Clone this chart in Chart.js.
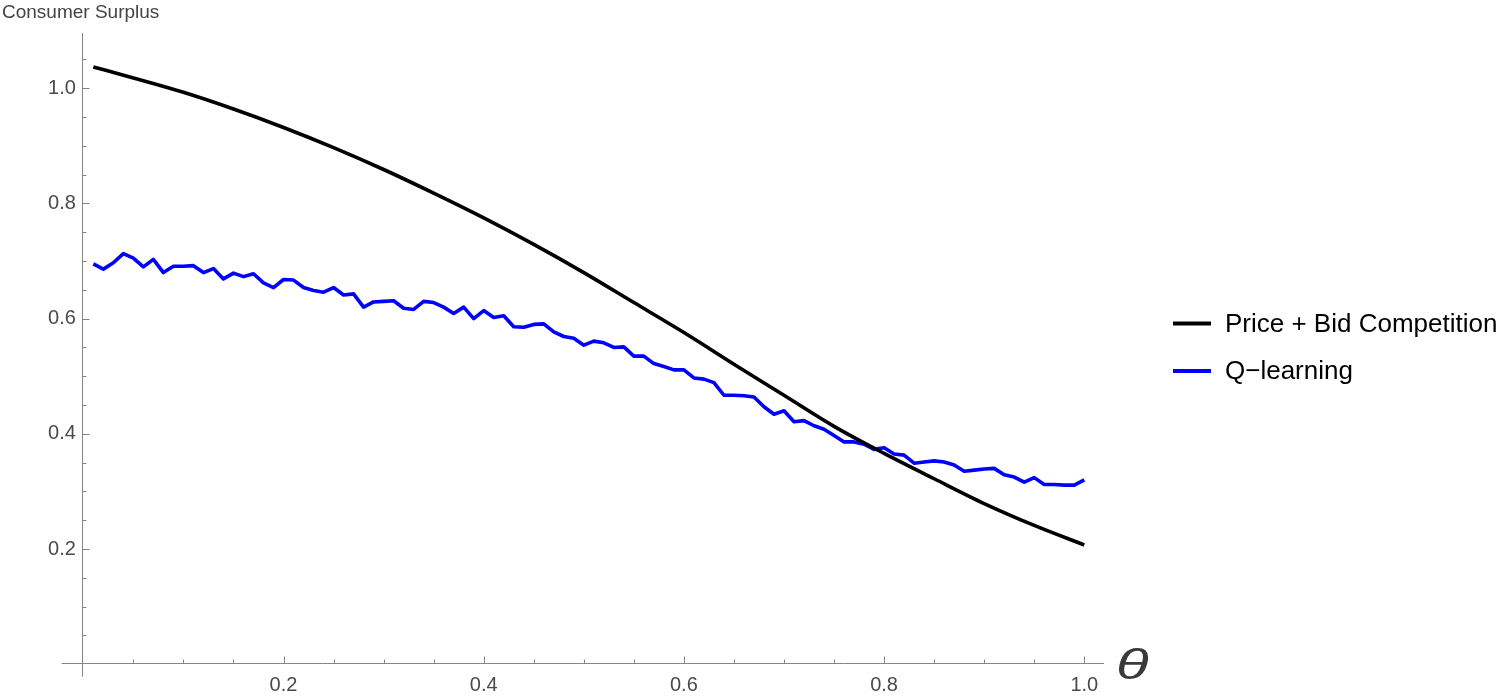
<!DOCTYPE html>
<html><head><meta charset="utf-8">
<script src="https://cdn.jsdelivr.net/npm/chart.js@4.4.1/dist/chart.umd.min.js"></script>
<style>html,body{margin:0;padding:0;background:#fff;overflow:hidden}#wrap{position:relative;width:1508px;height:697px}canvas{display:block}</style>
</head><body><div id="wrap"><canvas id="c" width="1508" height="697" style="width:1508px;height:697px"></canvas></div>
<script>
const thetaQ = [0.01,0.02,0.03,0.04,0.05,0.06,0.07,0.08,0.09,0.10,
0.11,0.12,0.13,0.14,0.15,0.16,0.17,0.18,0.19,0.20,
0.21,0.22,0.23,0.24,0.25,0.26,0.27,0.28,0.29,0.30,
0.31,0.32,0.33,0.34,0.35,0.36,0.37,0.38,0.39,0.40,
0.41,0.42,0.43,0.44,0.45,0.46,0.47,0.48,0.49,0.50,
0.51,0.52,0.53,0.54,0.55,0.56,0.57,0.58,0.59,0.60,
0.61,0.62,0.63,0.64,0.65,0.66,0.67,0.68,0.69,0.70,
0.71,0.72,0.73,0.74,0.75,0.76,0.77,0.78,0.79,0.80,
0.81,0.82,0.83,0.84,0.85,0.86,0.87,0.88,0.89,0.90,
0.91,0.92,0.93,0.94,0.95,0.96,0.97,0.98,0.99,1.00];
const qLearning = [0.695,0.686,0.697,0.713,0.705,0.690,0.703,0.680,0.691,0.691,
0.692,0.680,0.687,0.669,0.679,0.673,0.678,0.662,0.654,0.668,
0.667,0.654,0.649,0.646,0.654,0.641,0.643,0.620,0.629,0.630,
0.631,0.618,0.616,0.630,0.628,0.620,0.609,0.620,0.600,0.614,
0.602,0.605,0.586,0.585,0.590,0.591,0.577,0.569,0.566,0.554,
0.561,0.558,0.550,0.551,0.535,0.535,0.522,0.517,0.511,0.511,
0.497,0.495,0.489,0.467,0.467,0.466,0.464,0.447,0.434,0.440,
0.421,0.423,0.414,0.408,0.397,0.386,0.386,0.382,0.373,0.376,
0.365,0.363,0.349,0.351,0.353,0.351,0.346,0.335,0.337,0.339,
0.340,0.329,0.325,0.316,0.324,0.312,0.312,0.311,0.311,0.320];
const thetaPB = [0.01,0.05,0.10,0.15,0.20,0.25,0.30,0.35,0.40,0.45,0.50,0.55,0.60,0.65,0.70,0.75,0.80,0.85,0.90,0.95,1.00];
const priceBid = [1.037,1.018,0.993,0.964,0.932,0.897,0.859,0.818,0.775,0.729,0.680,0.628,0.576,0.521,0.467,0.413,0.366,0.322,0.279,0.241,0.207];
const seriesNames = ['Price + Bid Competition', 'Q\u2212learning'];
const seriesColors = ['#000000', '#0000ff'];
const xMajorTicks = [0.2,0.4,0.6,0.8,1.0];
const yMajorTicks = [0.2,0.4,0.6,0.8,1.0];
const xMinorTicks = [0.05,0.10,0.15,0.25,0.30,0.35,0.45,0.50,0.55,0.65,0.70,0.75,0.85,0.90,0.95];
const yMinorTicks = [0.05,0.10,0.15,0.25,0.30,0.35,0.45,0.50,0.55,0.65,0.70,0.75,0.85,0.90,0.95,1.05];
const yAxisLabel = 'Consumer Surplus';
const xAxisLabel = '\u03B8';

const FONT = "'Liberation Sans', Arial, Helvetica, sans-serif";

const decor = {
  id: 'decor',
  beforeDatasetsDraw(chart) {
    const {ctx, chartArea: a, scales: {x, y}} = chart;
    const x0 = Math.round(x.getPixelForValue(0)) - 0.5;
    const y0 = Math.round(y.getPixelForValue(0)) - 0.5;
    ctx.save();
    ctx.strokeStyle = '#858585';
    ctx.lineWidth = 1;
    ctx.beginPath();
    ctx.moveTo(a.left, y0); ctx.lineTo(a.right, y0);
    ctx.moveTo(x0, a.bottom); ctx.lineTo(x0, a.top);
    xMajorTicks.forEach(v => { const p = Math.round(x.getPixelForValue(v)) + 0.5; ctx.moveTo(p, y0); ctx.lineTo(p, y0 - 7); });
    xMinorTicks.forEach(v => { const p = Math.round(x.getPixelForValue(v)) + 0.5; ctx.moveTo(p, y0); ctx.lineTo(p, y0 - 4); });
    yMajorTicks.forEach(v => { const p = Math.round(y.getPixelForValue(v)) + 0.5; ctx.moveTo(x0, p); ctx.lineTo(x0 + 7, p); });
    yMinorTicks.forEach(v => { const p = Math.round(y.getPixelForValue(v)) + 0.5; ctx.moveTo(x0, p); ctx.lineTo(x0 + 4, p); });
    ctx.stroke();
    ctx.restore();
  },
  afterDraw(chart) {
    const {ctx, chartArea: a} = chart;
    ctx.save();
    ctx.fillStyle = '#444444';
    ctx.font = '19px ' + FONT;
    ctx.textAlign = 'left';
    ctx.textBaseline = 'alphabetic';
    ctx.fillText(yAxisLabel, 2, 18);
    ctx.save();
    ctx.fillStyle = '#3a3a3a';
    ctx.font = 'italic 43px ' + FONT;
    ctx.translate(a.right + 12, 679);
    ctx.scale(1.4, 1);
    ctx.fillText(xAxisLabel, 0, 0);
    ctx.restore();
    // legend
    ctx.font = '26px ' + FONT;
    ctx.textBaseline = 'middle';
    seriesNames.forEach((name, i) => {
      const yy = 323.5 + i * 47.5;
      ctx.strokeStyle = seriesColors[i];
      ctx.lineWidth = 4;
      ctx.beginPath(); ctx.moveTo(1173, yy); ctx.lineTo(1211, yy); ctx.stroke();
      ctx.fillStyle = '#000000';
      ctx.fillText(name, 1225, yy + 1);
    });
    ctx.restore();
  }
};

new Chart(document.getElementById('c'), {
  type: 'line',
  data: {
    datasets: [
      { label: seriesNames[0], data: thetaPB.map((v, i) => ({x: v, y: priceBid[i]})),
        borderColor: seriesColors[0], borderWidth: 3.6, pointRadius: 0, cubicInterpolationMode: 'monotone', fill: false },
      { label: seriesNames[1], data: thetaQ.map((v, i) => ({x: v, y: qLearning[i]})),
        borderColor: seriesColors[1], borderWidth: 3.6, pointRadius: 0, tension: 0, fill: false, borderJoinStyle: 'round' }
    ]
  },
  options: {
    responsive: false, animation: false, devicePixelRatio: 1,
    layout: { padding: { left: 61.7, top: 33, right: 404, bottom: 20.3 } },
    plugins: { legend: { display: false }, tooltip: { enabled: false }, title: { display: false } },
    scales: {
      x: {
        type: 'linear', min: -0.0216, max: 1.0197, position: { y: 0 },
        grid: { display: false, drawTicks: false }, border: { display: false },
        afterBuildTicks: s => { s.ticks = xMajorTicks.map(v => ({value: v})); },
        ticks: { padding: 9, autoSkip: false, maxRotation: 0, color: '#4a4a4a',
                 font: { family: FONT, size: 20 }, callback: v => Number(v).toFixed(1) }
      },
      y: {
        type: 'linear', min: -0.0217, max: 1.096, position: { x: -0.0075 },
        grid: { display: false, drawTicks: false }, border: { display: false },
        afterBuildTicks: s => { s.ticks = yMajorTicks.map(v => ({value: v})); },
        ticks: { padding: 0, autoSkip: false, color: '#4a4a4a',
                 font: { family: FONT, size: 20 }, callback: v => Number(v).toFixed(1) }
      }
    }
  },
  plugins: [decor]
});
</script></body></html>
